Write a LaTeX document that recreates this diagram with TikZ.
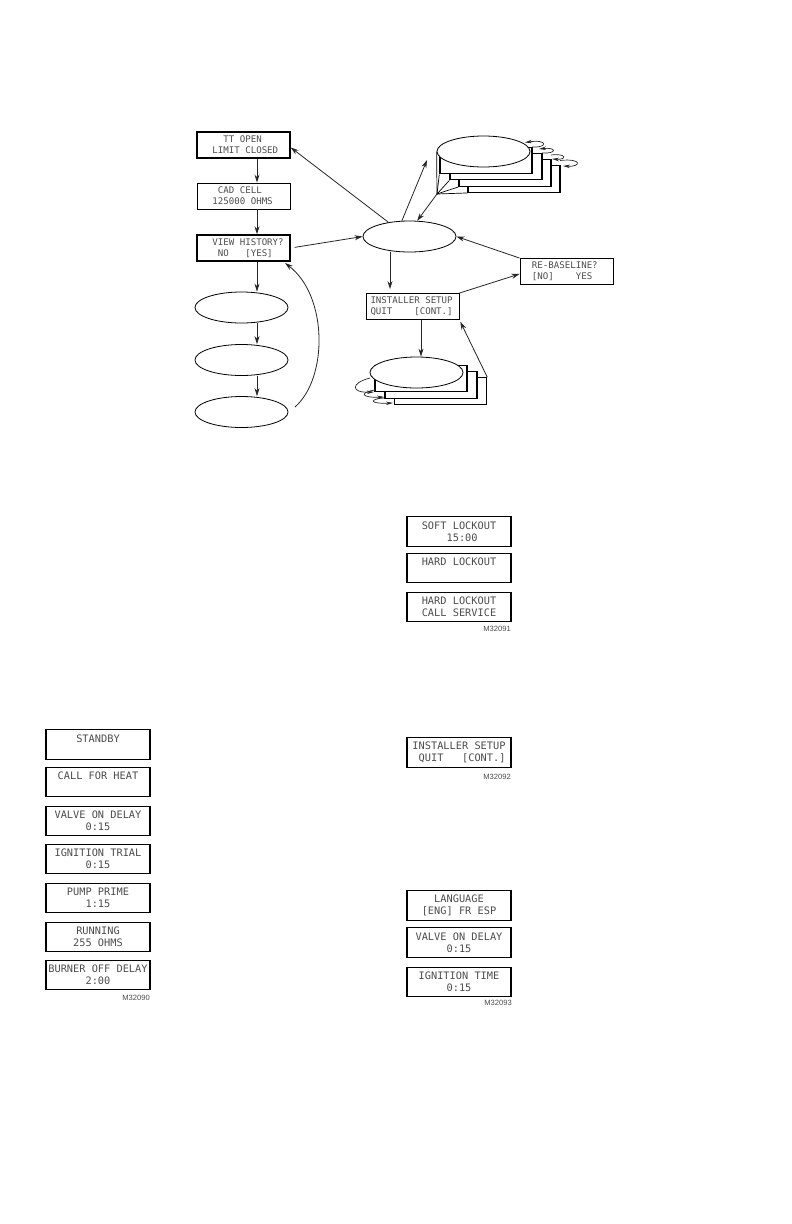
\documentclass[tikz,border=0pt]{standalone}
\usepackage{fontspec}
\setmonofont{DejaVu Sans Mono}
\setsansfont{Liberation Sans}
\usetikzlibrary{arrows.meta,shapes.geometric}
\begin{document}
\begin{tikzpicture}
[x=1pt,y=-1pt,
  lcdsmall/.style={shape=rectangle,draw,line width=1.4pt,inner sep=0pt,
    minimum width=93pt,minimum height=26pt,text width=84pt,align=flush left,
    text=black!70,font=\fontsize{9.1}{11.2}\selectfont\ttfamily},
  lcdthin/.style={lcdsmall,line width=0.9pt},
  lcdlarge/.style={shape=rectangle,draw,line width=1.4pt,inner sep=0pt,
    minimum width=104pt,minimum height=29.5pt,align=center,
    text=black!70,font=\fontsize{10.3}{12.4}\selectfont\ttfamily},
  ovaldecorate/.style={shape=ellipse,draw,fill=white,line width=0.8pt,inner sep=0pt,
    minimum width=93pt,minimum height=31pt},
  stackdecorate/.style={shape=rectangle,draw,fill=white,line width=1.4pt,inner sep=0pt,
    minimum width=92pt,minimum height=26.5pt},
  linedecorate/.style={-{Stealth[length=8pt,width=5pt]},line width=0.8pt,black!85},
  loopdecorate/.style={-{Stealth[length=7pt,width=3.5pt]},line width=0.7pt,black!85},
  figurecode/.style={anchor=east,inner sep=0pt,text=black!70,
    font=\fontsize{7.6}{9}\selectfont\sffamily}]
\useasboundingbox (0,0) rectangle (792,1224);
%% free ends of connectors
\coordinate (historyspine) at (257,0);
\coordinate (setupspine) at (390,0);
\coordinate (branchspine) at (421,0);
\coordinate (lastout) at (295,407);
\coordinate (viewin) at (285,263);
\coordinate (stackin) at (427,160);
\coordinate (fanpoint) at (437,194);
%% left column
\node (ttopen) at (243.5,145) [lcdsmall] {~~~~TT OPEN\\~~LIMIT CLOSED};
\node (cadcell) at (243.5,196) [lcdthin] {~~~CAD CELL\\~~125000 OHMS};
\node (viewhist) at (243.5,248) [lcdsmall] {~~VIEW HISTORY?\\~~~NO~~~[YES]};
\foreach \nodename/\x/\y in {hista/241.5/307.5, histb/241.5/360, histc/241.5/412}
{
  \node (\nodename) at (\x,\y) [ovaldecorate] {};
}
%% centre and right
\node (mainoval) at (409.5,236.5) [ovaldecorate] {};
\node (setup) at (412.5,306.5) [lcdthin] {INSTALLER SETUP\\QUIT~~~~[CONT.]};
\node (rebase) at (566.5,271.5) [lcdthin] {~\hspace*{2pt}RE-BASELINE?\\~\hspace*{2pt}[NO]~~~~YES};
%% upper stack, back to front
\foreach \nodename/\x/\y in {stackd/514/179, stackc/505/173, stackb/496/166.5, stacka/486/160.5}
{
  \node (\nodename) at (\x,\y) [stackdecorate] {};
}
\node (stackoval) at (483.5,151.5) [ovaldecorate] {};
%% lower stack, back to front
\foreach \nodename/\x/\y in {lowc/440.5/391, lowb/431/385, lowa/421/378.5}
{
  \node (\nodename) at (\x,\y) [stackdecorate] {};
}
\node (lowoval) at (416.5,372.5) [ovaldecorate] {};
%% display panels
\foreach \nodename/\x/\y/\boxtext in {
  %% left panel
  standby/98/744.5/{STANDBY\\~}, callheat/98/782/{CALL FOR HEAT\\~},
  valvea/98/821/{VALVE ON DELAY\\0:15}, ignition/98/859/{IGNITION TRIAL\\0:15},
  pump/98/898/{PUMP PRIME\\1:15}, running/98/937/{RUNNING\\255 OHMS},
  burner/98/975/{BURNER OFF DELAY\\2:00},
  %% right panels
  soft/459/531.5/{SOFT LOCKOUT\\~15:00}, harda/459/568/{HARD LOCKOUT\\~},
  hardb/459/607/{HARD LOCKOUT\\CALL SERVICE},
  setupb/459/752.5/{INSTALLER SETUP\\~QUIT~~~[CONT.]~},
  language/459/905.5/{LANGUAGE\\{[}ENG] FR ESP},
  valveb/459/942.5/{VALVE ON DELAY\\0:15}, ignitime/459/982/{IGNITION TIME\\0:15}}
{
  \node (\nodename) at (\x,\y) [lcdlarge] {\boxtext};
}
\foreach \nodename/\x/\y/\boxtext in {codea/150/998/M32090, codeb/511/629/M32091,
  codec/511/777/M32092, coded/512/1003/M32093}
{
  \node (\nodename) at (\x,\y) [figurecode] {\boxtext};
}
%% connectors
\path
\foreach \startnode/\endnode in {ttopen/cadcell, cadcell/viewhist, viewhist/hista,
  hista/histb, histb/histc}
{
  (\startnode.south -| historyspine) edge[linedecorate] (\endnode.north -| historyspine)
};
\draw[linedecorate] (lastout) .. controls (328,378) and (328,296) .. (viewin);
\draw[linedecorate] (mainoval.146) -- (ttopen.-3);
\draw[linedecorate,shorten <=4pt] (viewhist.east) -- (mainoval.west);
\draw[linedecorate] (mainoval.116) -- (stackin);
\draw[linedecorate] (fanpoint) -- (mainoval.64);
\draw[linedecorate,shorten >=4pt] (mainoval.south -| setupspine) -- (setup.north -| setupspine);
\draw[linedecorate] (setup.north east) -- (rebase.183);
\draw[linedecorate] (rebase.north west) -- (mainoval.east);
\draw[linedecorate] (setup.south -| branchspine) -- (lowoval.north -| branchspine);
\draw[linedecorate,shorten >=2pt] (lowc.north east) -- (setup.south east);
%% fan under the upper stack
\draw[line width=0.7pt] (fanpoint) -- (stackoval.west);
\foreach \endnode in {stacka,stackb,stackc,stackd}
{
  \draw[line width=0.7pt] (fanpoint) -- (\endnode.south west);
}
%% small loops
\foreach \loopname/\sx/\sy/\cx/\cya/\cyb/\ex/\ey in {
  loopa/532/147/548/148/139/525/142.5, loopb/542/153/557/154/147/539/149,
  loopc/551/155/567/153/160/552/159, loopd/560/160.5/582/158/167/563/166,
  lowloopa/370/378/350.5/383/393/374/392, lowloopb/375/390/360/392/398/384/397,
  lowloopc/384/398/369/399/404/393/403}
{
  \coordinate (\loopname start) at (\sx,\sy);
  \coordinate (\loopname end) at (\ex,\ey);
  \draw[loopdecorate] (\loopname start) .. controls (\cx,\cya) and (\cx,\cyb) .. (\loopname end);
}
\end{tikzpicture}
\end{document}
